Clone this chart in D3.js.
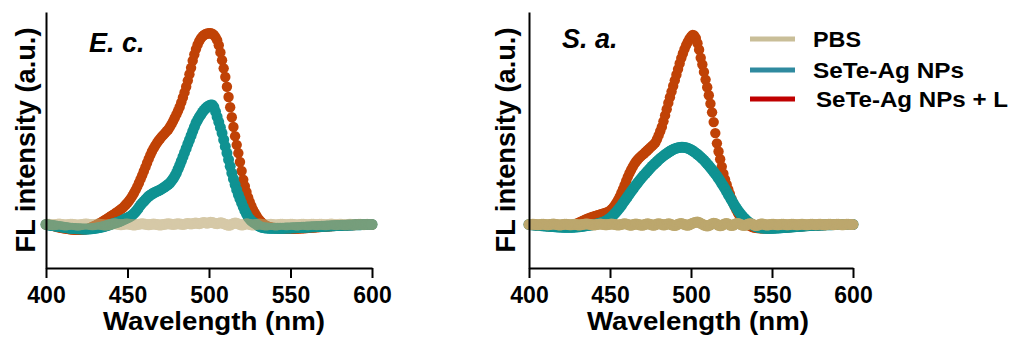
<!DOCTYPE html>
<html>
<head>
<meta charset="utf-8">
<script src="https://cdn.jsdelivr.net/npm/d3@7"></script>
<style>
  body { margin: 0; background: #fff; }
  text { font-family: Arial, "Liberation Sans", sans-serif; font-weight: bold; fill: #000; }
</style>
</head>
<body>
<svg id="chart" width="1014" height="341"></svg>
<script>
// wavelength (nm), one point per nm
var wavelength = d3.range(400, 601);
var xTicks = [400, 450, 500, 550, 600];

// E. c. panel, FL intensity (a.u.)
var ecPBS = [
  0,1,1,0,-1,-1,0,1,2,1,
  0,-1,-2,-1,0,1,1,0,-1,-2,
  -2,-1,0,1,2,2,1,0,-1,-1,
  0,1,2,1,0,-1,-2,-2,-1,0,
  1,2,3,2,1,0,-1,0,1,2,
  2,1,0,-1,-2,-1,0,1,2,3,
  2,1,0,-1,0,1,2,1,0,-1,
  -2,-1,0,1,2,3,2,1,0,1,
  2,3,2,1,0,1,3,4,3,2,
  3,5,6,4,3,5,7,8,6,5,
  7,9,8,6,4,3,5,7,6,3,
  1,-1,-3,-2,1,4,6,5,2,0,
  -2,-1,1,3,2,0,-1,-2,-1,0,
  1,2,1,0,-1,-2,-1,0,1,0,
  -1,-2,-1,0,1,1,0,-1,-1,0,
  1,1,0,-1,-2,-1,0,1,1,0,
  -1,-1,0,1,1,0,-1,0,1,1,
  0,-1,-1,0,1,2,1,0,-1,0,
  1,1,0,-1,-1,0,1,1,0,-1,
  -1,0,1,1,0,-1,0,1,0,0,
  0];
var ecNPs = [
  0,-1,-2,-3,-4,-5,-6,-7,-8,-9,
  -10,-11,-12,-13,-14,-15,-15,-16,-16,-17,
  -17,-17,-18,-18,-18,-18,-18,-17,-17,-16,
  -15,-14,-13,-12,-10,-9,-7,-5,-3,-1,
  1,3,5,7,9,11,14,17,20,23,
  26,29,33,37,43,50,58,67,76,83,
  90,97,104,110,115,119,123,126,129,132,
  135,139,143,147,152,157,162,170,179,189,
  201,216,231,247,264,281,297,314,330,347,
  364,380,396,408,419,429,439,447,454,460,
  464,467,467,458,441,420,400,379,357,331,
  305,279,253,227,201,178,156,135,117,100,
  84,69,54,41,29,21,14,9,5,1,
  -3,-7,-10,-12,-13,-14,-14,-15,-15,-15,
  -15,-15,-15,-15,-15,-15,-15,-14,-14,-14,
  -14,-13,-13,-13,-12,-12,-12,-11,-11,-11,
  -10,-10,-10,-9,-9,-9,-8,-8,-8,-7,
  -7,-7,-6,-6,-6,-5,-5,-5,-4,-4,
  -4,-3,-3,-3,-3,-2,-2,-2,-2,-1,
  -1,-1,-1,-1,0,0,0,0,0,0,
  0];
var ecNPsL = [
  0,-1,-2,-3,-5,-6,-8,-10,-11,-13,
  -14,-15,-16,-17,-18,-19,-20,-20,-21,-21,
  -21,-21,-20,-20,-19,-18,-16,-14,-11,-8,
  -5,-2,2,5,9,13,17,21,25,29,
  33,37,41,46,50,55,60,65,71,78,
  85,93,102,112,123,135,148,162,177,192,
  208,224,240,256,271,285,297,308,318,327,
  335,343,350,357,364,371,381,392,404,417,
  430,444,459,477,496,516,538,562,587,612,
  640,664,685,702,716,727,735,740,744,746,
  747,747,745,740,732,720,700,672,642,610,
  576,538,498,458,419,381,345,311,279,244,
  209,175,150,127,106,88,72,58,46,35,
  25,17,10,4,-1,-5,-8,-10,-12,-13,
  -14,-15,-15,-16,-16,-16,-16,-17,-17,-17,
  -17,-17,-17,-16,-16,-16,-15,-15,-15,-14,
  -14,-13,-13,-12,-12,-11,-11,-10,-10,-9,
  -9,-8,-8,-7,-7,-6,-6,-5,-5,-5,
  -4,-4,-4,-3,-3,-3,-2,-2,-2,-2,
  -1,-1,-1,-1,-1,0,0,0,0,0,
  0];

// S. a. panel, FL intensity (a.u.)
var saPBS = [
  0,0,1,1,0,-1,-1,0,1,1,
  0,-1,-1,0,1,2,1,0,-1,-2,
  -1,0,1,1,0,-1,-1,0,1,0,
  -1,-2,-1,0,1,2,2,1,0,-1,
  -2,-1,0,1,2,1,0,-1,-1,0,
  1,2,1,0,-1,-2,-1,0,2,3,
  2,0,-2,-3,-1,1,2,1,-1,-2,
  -3,-1,1,3,2,0,-2,-3,-1,2,
  3,2,0,-2,-1,1,3,2,-1,-3,
  -4,-2,1,3,4,2,0,-2,-3,-1,
  2,5,7,9,10,8,4,1,-2,-4,
  -6,-4,-1,3,5,4,1,-3,-5,-4,
  0,3,4,2,-2,-4,-3,1,4,4,
  2,-1,-3,-4,-2,1,3,3,1,-2,
  -4,-3,-1,2,2,1,-1,-2,-1,0,
  1,1,0,-1,-1,0,1,1,0,-1,
  -1,0,1,1,0,-1,-1,0,1,1,
  0,-1,-1,0,1,1,0,-1,0,1,
  1,0,-1,-1,0,1,1,0,-1,0,
  1,1,0,-1,-1,0,1,1,0,0,
  0];
var saNPs = [
  0,-1,-1,-2,-2,-3,-4,-4,-5,-5,
  -6,-6,-7,-7,-8,-8,-9,-9,-10,-10,
  -10,-11,-11,-11,-11,-11,-11,-11,-10,-10,
  -9,-9,-8,-7,-6,-5,-4,-3,-2,-1,
  0,1,2,4,6,8,10,13,16,20,
  25,30,36,43,50,58,66,74,83,92,
  101,110,119,128,137,145,154,162,170,178,
  186,193,200,207,214,221,228,234,240,246,
  252,258,263,268,273,277,282,286,290,293,
  296,298,300,301,302,302,301,300,298,295,
  292,288,284,279,274,269,263,257,251,244,
  237,230,222,214,206,198,189,180,170,160,
  150,140,128,117,106,95,84,74,64,55,
  46,38,31,24,18,12,7,3,-1,-5,
  -8,-10,-12,-13,-14,-14,-15,-15,-15,-15,
  -15,-15,-14,-14,-14,-13,-13,-12,-12,-11,
  -11,-10,-10,-9,-9,-8,-8,-7,-7,-6,
  -6,-5,-5,-4,-4,-4,-3,-3,-3,-2,
  -2,-2,-2,-1,-1,-1,-1,-1,0,0,
  0,0,0,0,0,0,0,0,0,0,
  0];
var saNPsL = [
  0,-1,-1,-2,-2,-3,-3,-4,-4,-5,
  -5,-6,-6,-7,-7,-7,-8,-8,-8,-8,
  -8,-8,-7,-7,-6,-5,-4,-2,0,2,
  5,8,11,14,17,20,23,25,27,29,
  31,33,35,37,39,41,43,45,47,50,
  54,60,67,75,85,96,109,123,138,154,
  170,186,200,213,225,236,245,253,260,266,
  272,277,283,289,295,301,307,313,320,333,
  348,364,381,403,426,450,475,497,519,541,
  563,585,607,629,650,668,685,700,713,725,
  734,740,738,728,708,683,651,625,596,566,
  536,505,472,438,400,357,317,285,255,226,
  198,176,156,137,119,101,85,70,57,45,
  35,26,18,11,5,0,-4,-7,-10,-12,
  -13,-14,-14,-15,-15,-15,-15,-15,-15,-15,
  -14,-14,-14,-13,-13,-13,-12,-12,-12,-11,
  -11,-10,-10,-9,-9,-8,-8,-7,-7,-6,
  -6,-5,-5,-5,-4,-4,-4,-3,-3,-3,
  -2,-2,-2,-2,-1,-1,-1,-1,-1,0,
  0,0,0,0,0,0,0,0,0,0,
  0];

var legendLabels = ["PBS", "SeTe-Ag NPs", "SeTe-Ag NPs + L"];
var legendColors = ["#c9be98", "#2f8a9f", "#c00000"];

var svg = d3.select("#chart");
var font = 'Arial, "Liberation Sans", sans-serif';

function drawPanel(p) {
  var x = d3.scaleLinear().domain([400, 600]).range([p.left, p.right]);
  var y = d3.scaleLinear().domain([-170, 830]).range([268, 12]);
  var g = svg.append("g");

  p.series.forEach(function(s) {
    g.append("g")
        .attr("opacity", s.opacity)
      .selectAll("circle")
      .data(s.values)
      .enter().append("circle")
        .attr("cx", function(d, i) { return x(wavelength[i]); })
        .attr("cy", function(d) { return y(d); })
        .attr("r", s.r)
        .attr("fill", s.color);
  });

  var xAxis = d3.axisBottom(x)
      .tickValues(xTicks)
      .tickSizeInner(10)
      .tickSizeOuter(0)
      .tickPadding(9);

  g.append("g")
      .attr("class", "x axis")
      .attr("transform", "translate(0,268)")
      .call(xAxis);

  g.append("g")
      .attr("class", "y axis")
      .attr("transform", "translate(" + p.left + ",0)")
      .call(d3.axisLeft(y).tickValues([]).tickSizeOuter(0));

  g.selectAll(".axis path, .axis line")
      .attr("stroke", "#000")
      .attr("stroke-width", 2);
  g.selectAll(".axis text")
      .attr("font-family", font)
      .attr("font-weight", "bold")
      .attr("font-size", 23)
      .attr("fill", "#000");

  g.append("text")
      .attr("x", p.titleX)
      .attr("y", 330)
      .attr("text-anchor", "middle")
      .attr("font-size", 25)
      .attr("textLength", 222)
      .attr("lengthAdjust", "spacingAndGlyphs")
      .text("Wavelength (nm)");

  g.append("text")
      .attr("transform", "translate(" + p.ylabX + ",140) rotate(-90)")
      .attr("text-anchor", "middle")
      .attr("font-size", 27)
      .attr("textLength", 225)
      .attr("lengthAdjust", "spacingAndGlyphs")
      .text("FL intensity (a.u.)");

  g.append("text")
      .attr("x", p.tagX)
      .attr("y", p.tagY)
      .attr("font-size", 27)
      .attr("font-style", "italic")
      .text(p.tag);
}

drawPanel({
  left: 46, right: 372, titleX: 214, ylabX: 35, tag: "E. c.", tagX: 89, tagY: 52,
  series: [
    {values: ecNPsL, color: "#c04206", r: 5.2, opacity: 1},
    {values: ecNPs, color: "#0f9292", r: 5.5, opacity: 1},
    {values: ecPBS, color: "#bba66e", r: 5.5, opacity: 0.6}
  ]
});

drawPanel({
  left: 529, right: 853, titleX: 698, ylabX: 515, tag: "S. a.", tagX: 562, tagY: 48,
  series: [
    {values: saNPsL, color: "#c04206", r: 5.2, opacity: 1},
    {values: saNPs, color: "#0f9292", r: 5.5, opacity: 1},
    {values: saPBS, color: "#bca76d", r: 5.5, opacity: 1}
  ]
});

// legend
var legendY = [39, 70, 99];
var legendX = [813, 813, 816];
var legendW = [48, 151, 192];
var legend = svg.append("g").attr("class", "legend");
legendLabels.forEach(function(l, i) {
  legend.append("line")
      .attr("x1", 750).attr("x2", 795)
      .attr("y1", legendY[i]).attr("y2", legendY[i])
      .attr("stroke", legendColors[i])
      .attr("stroke-width", 5);
  legend.append("text")
      .attr("x", legendX[i])
      .attr("y", legendY[i] + 8)
      .attr("font-size", 22)
      .attr("textLength", legendW[i])
      .attr("lengthAdjust", "spacingAndGlyphs")
      .text(l);
});
</script>
</body>
</html>
